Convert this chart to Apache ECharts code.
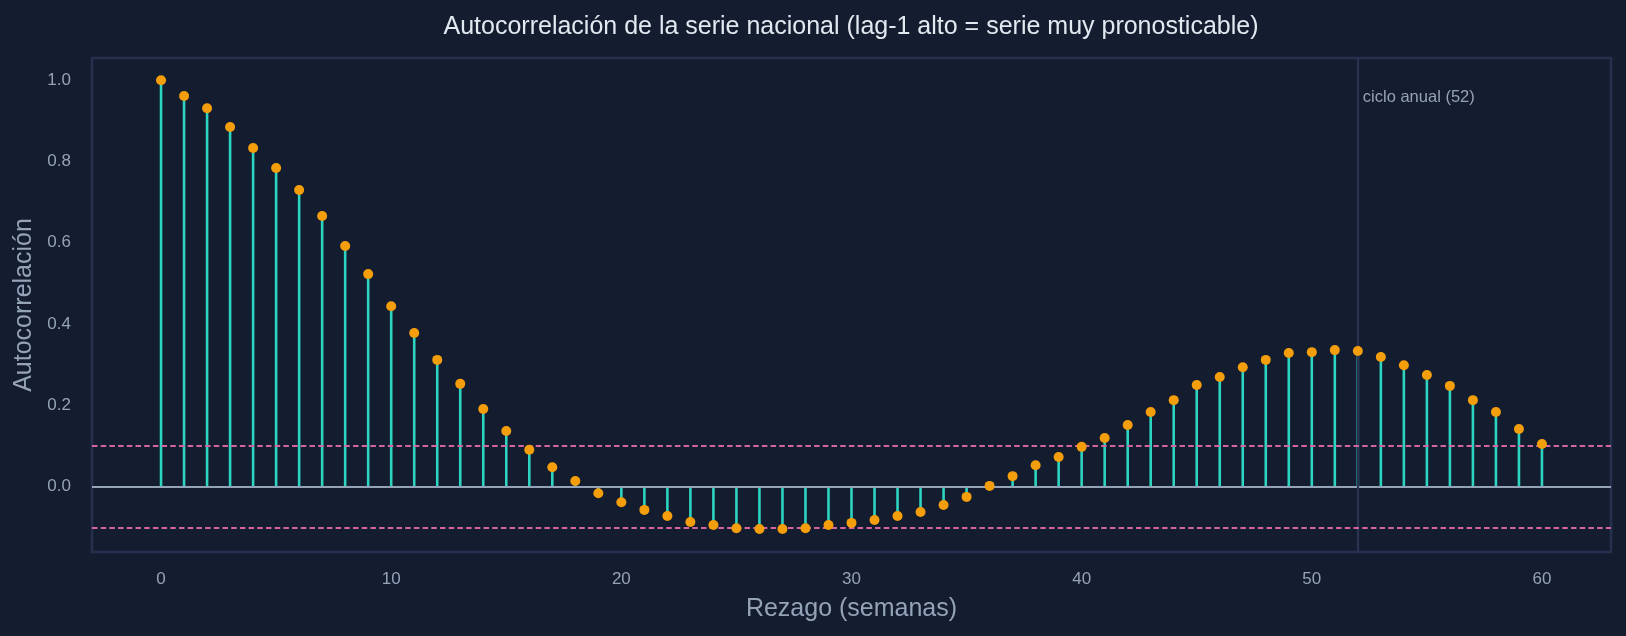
<!DOCTYPE html>
<html lang="es">
<head>
    <meta charset="UTF-8">
    <script src="https://cdn.jsdelivr.net/npm/echarts@6/dist/echarts.min.js"></script>
    <title>Autocorrelación serie nacional</title>
    <style>html, body { margin: 0; padding: 0; background: #141c2f; }</style>
</head>
<body>
<div id="main" style="width: 1626px;height:636px;"></div>
<script type="text/javascript">
        // datos
        var lags = [0, 1, 2, 3, 4, 5, 6, 7, 8, 9, 10, 11, 12, 13, 14, 15, 16, 17, 18, 19, 20,
                    21, 22, 23, 24, 25, 26, 27, 28, 29, 30, 31, 32, 33, 34, 35, 36, 37, 38, 39, 40,
                    41, 42, 43, 44, 45, 46, 47, 48, 49, 50, 51, 52, 53, 54, 55, 56, 57, 58, 59, 60];
        var acf = [1.000, 0.961, 0.931, 0.885, 0.833, 0.784, 0.730, 0.666, 0.592, 0.523, 0.444,
                   0.378, 0.312, 0.253, 0.191, 0.137, 0.091, 0.048, 0.014, -0.016, -0.038,
                   -0.057, -0.072, -0.087, -0.094, -0.102, -0.104, -0.104, -0.102, -0.094, -0.089,
                   -0.082, -0.072, -0.062, -0.045, -0.025, 0.002, 0.026, 0.053, 0.073, 0.098,
                   0.120, 0.152, 0.184, 0.213, 0.250, 0.270, 0.294, 0.312, 0.329, 0.331,
                   0.336, 0.334, 0.319, 0.299, 0.275, 0.248, 0.213, 0.184, 0.142, 0.105];
        var xTicks = [0, 10, 20, 30, 40, 50, 60];
        var yTicks = [0, 0.2, 0.4, 0.6, 0.8, 1.0];
        var confBand = 0.098;      // ±1.96/sqrt(n)
        var annualLag = 52;
        var annualText = 'ciclo anual (52)';
        var annualTextY = 0.957;

        var points = lags.map(function (l, i) { return [l, acf[i]]; });

        var bg = '#141c2f';
        var txt = '#94a3b8';
        var font = 'Liberation Sans, Arial, sans-serif';
        var pink = { color: '#d4659f', width: 1.8, type: [5.5, 3.2] };

        var myChart = echarts.init(document.getElementById('main'));

        option = {
            backgroundColor: bg,
            animation: false,
            graphic: [{
                type: 'text',
                x: 851, y: 27,
                style: {
                    text: 'Autocorrelación de la serie nacional (lag-1 alto = serie muy pronosticable)',
                    fill: '#e2e8f0', font: '25px ' + font,
                    textAlign: 'center', textVerticalAlign: 'middle'
                }
            }],
            grid: {
                left: 92, right: 15, top: 58, bottom: 84,
                show: true, borderColor: '#24304e', borderWidth: 2.5, backgroundColor: bg
            },
            xAxis: {
                type: 'value', min: -3, max: 63,
                name: 'Rezago (semanas)', nameLocation: 'middle', nameGap: 45,
                nameTextStyle: { color: txt, fontSize: 25, fontFamily: font },
                axisLine: { show: false }, axisTick: { show: false }, splitLine: { show: false },
                axisLabel: { customValues: xTicks, color: txt, fontSize: 17, fontFamily: font, margin: 19 }
            },
            yAxis: {
                type: 'value', min: -0.1606, max: 1.0546,
                name: 'Autocorrelación', nameLocation: 'middle', nameGap: 54,
                nameTextStyle: { color: txt, fontSize: 25, fontFamily: font },
                axisLine: { show: false }, axisTick: { show: false }, splitLine: { show: false },
                axisLabel: {
                    customValues: yTicks, color: txt, fontSize: 17, fontFamily: font, margin: 21,
                    formatter: function (v) { return v.toFixed(1); }
                }
            },
            series: [{
                // tallos
                type: 'custom', z: 3, data: points,
                encode: { x: 0, y: 1 },
                renderItem: function (params, api) {
                    var a = api.coord([api.value(0), 0]);
                    var b = api.coord([api.value(0), api.value(1)]);
                    return {
                        type: 'line',
                        shape: { x1: a[0], y1: a[1], x2: b[0], y2: b[1] },
                        style: { stroke: '#2dd4bf', lineWidth: 2.6 }
                    };
                }
            }, {
                // líneas de referencia
                type: 'line', data: [], z: 5,
                markLine: {
                    silent: true, symbol: 'none', label: { show: false },
                    data: [
                        { yAxis: 0, lineStyle: { color: '#94a3b8', width: 1.8, type: 'solid' } },
                        { xAxis: annualLag, lineStyle: { color: '#283452', width: 2.2, type: 'solid' } },
                        { yAxis: confBand, lineStyle: pink },
                        { yAxis: -confBand, lineStyle: pink }
                    ]
                },
                markPoint: {
                    silent: true, symbol: 'circle', symbolSize: 0,
                    data: [{ coord: [annualLag, annualTextY] }],
                    label: {
                        show: true, position: 'right', distance: 5,
                        formatter: annualText, color: txt, fontSize: 16.5, fontFamily: font
                    }
                }
            }, {
                type: 'scatter', z: 6, data: points,
                symbol: 'circle', symbolSize: 10,
                itemStyle: { color: '#f59e0b', opacity: 1 }
            }]
        };

        myChart.setOption(option);
    </script>
</body>
</html>
